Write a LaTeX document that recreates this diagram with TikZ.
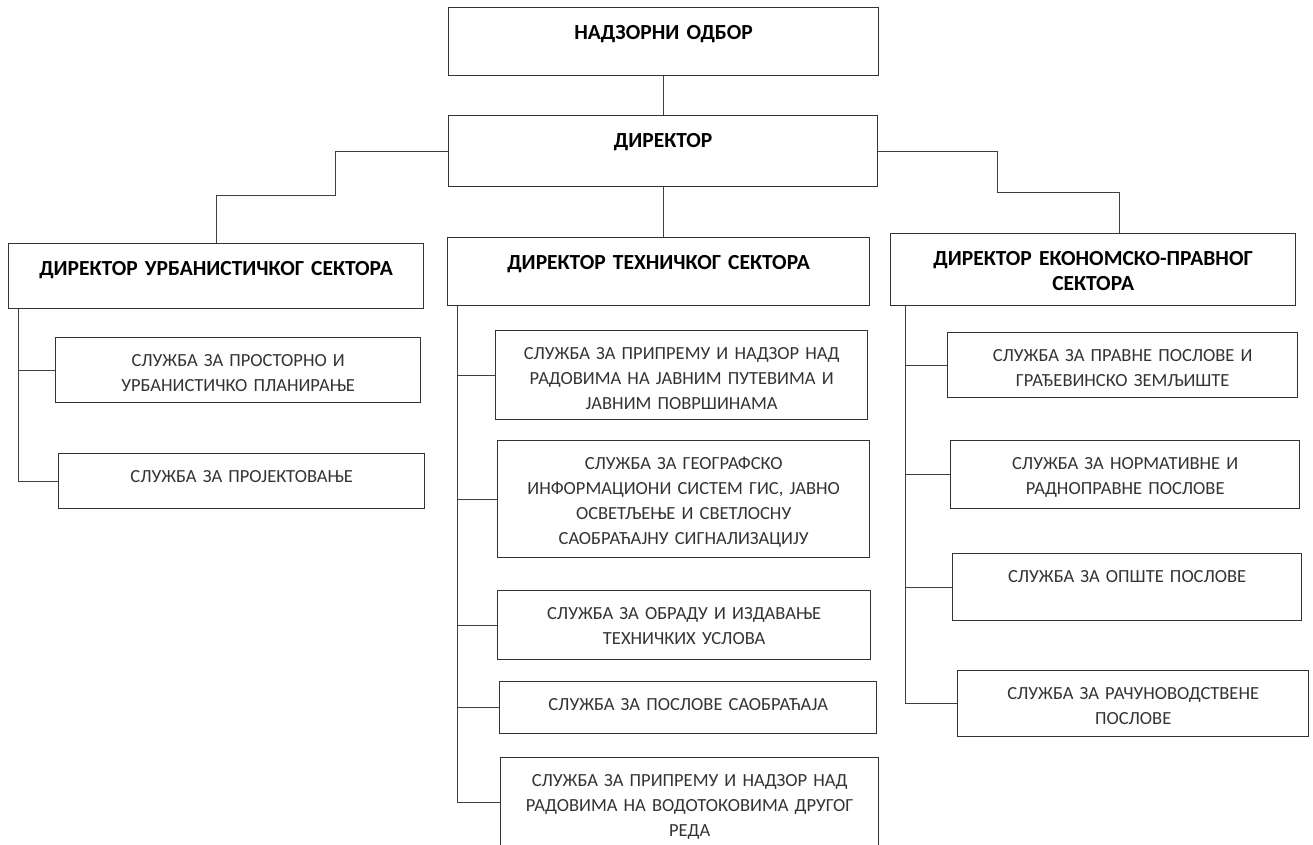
\documentclass[tikz,border=0pt]{standalone}
\usepackage{fontspec}
\setmainfont{Carlito}[WordSpace=0.8]
\usepackage{tikz}

\begin{document}
\begin{tikzpicture}[
		x=1pt, y=-1pt,
		box/.style={draw=black!80, line width=1.3pt, anchor=north west, inner sep=0pt, align=center},
		head/.style 2 args={box, text width=#1pt, text height=32pt, text depth=#2pt-32pt,
			font=\fontsize{21.5}{25}\selectfont\bfseries},
		unit/.style 2 args={box, text width=#1pt, text height=29pt, text depth=#2pt-29pt,
			text=black!80, font=\fontsize{18.5}{25}\selectfont},
		link/.style={draw=black!75, line width=1pt}
		]
		\useasboundingbox (0,0) rectangle (1313,845);
		% top of the chart
		\node[head={430}{68}] (board) at (448,7) {НАДЗОРНИ ОДБОР};
		\node[head={429}{71}] (director) at (448,115) {ДИРЕКТОР};
		% sectors
		\node[head={415}{65}] (urb) at (8,243) {ДИРЕКТОР УРБАНИСТИЧКОГ СЕКТОРА};
		\node[head={422}{68}] (tech) at (447,237) {ДИРЕКТОР ТЕХНИЧКОГ СЕКТОРА};
		\node[head={405}{72}] (econ) at (890,233) {ДИРЕКТОР ЕКОНОМСКО-ПРАВНОГ\\СЕКТОРА};
		% urban sector services
		\node[unit={365}{65}] (urb1) at (55,337) {СЛУЖБА ЗА ПРОСТОРНО И\\УРБАНИСТИЧКО ПЛАНИРАЊЕ};
		\node[unit={366}{55}] (urb2) at (58,453) {СЛУЖБА ЗА ПРОЈЕКТОВАЊЕ};
		% technical sector services
		\node[unit={372}{89}] (tech1) at (495,330) {СЛУЖБА ЗА ПРИПРЕМУ И НАДЗОР НАД\\РАДОВИМА НА ЈАВНИМ ПУТЕВИМА И\\ЈАВНИМ ПОВРШИНАМА};
		\node[unit={372}{117}] (tech2) at (497,440) {СЛУЖБА ЗА ГЕОГРАФСКО\\ИНФОРМАЦИОНИ СИСТЕМ ГИС, ЈАВНО\\ОСВЕТЉЕЊЕ И СВЕТЛОСНУ\\САОБРАЋАЈНУ СИГНАЛИЗАЦИЈУ};
		\node[unit={373}{69}] (tech3) at (497,590) {СЛУЖБА ЗА ОБРАДУ И ИЗДАВАЊЕ\\ТЕХНИЧКИХ УСЛОВА};
		\node[unit={377}{52}] (tech4) at (499,681) {СЛУЖБА ЗА ПОСЛОВЕ САОБРАЋАЈА};
		\node[unit={378}{90}] (tech5) at (500,757) {СЛУЖБА ЗА ПРИПРЕМУ И НАДЗОР НАД\\РАДОВИМА НА ВОДОТОКОВИМА ДРУГОГ\\РЕДА};
		% economic-legal sector services
		\node[unit={350}{65}] (econ1) at (947,332) {СЛУЖБА ЗА ПРАВНЕ ПОСЛОВЕ И\\ГРАЂЕВИНСКО ЗЕМЉИШТЕ};
		\node[unit={349}{68}] (econ2) at (950,440) {СЛУЖБА ЗА НОРМАТИВНЕ И\\РАДНОПРАВНЕ ПОСЛОВЕ};
		\node[unit={349}{67}] (econ3) at (952,553) {СЛУЖБА ЗА ОПШТЕ ПОСЛОВЕ};
		\node[unit={351}{66}] (econ4) at (957,670) {СЛУЖБА ЗА РАЧУНОВОДСТВЕНЕ\\ПОСЛОВЕ};
		% bends of the upper connectors
		\coordinate (bendl) at (335,195);
		\coordinate (bendr) at (997,192);
		
		\draw[link] (board.south) -- (board.south |- director.north);
		\draw[link] (director.south) -- (director.south |- tech.north);
		\draw[link] (director.west) -| (bendl) -| (urb.north);
		\draw[link] (director.east) -| (bendr) -| ([xshift=26pt]econ.north);
		
		\draw[link] ([xshift=10pt]urb.south west) |- (urb1.west);
		\draw[link] ([xshift=10pt]urb.south west) |- (urb2.west);
		
		\draw[link] ([xshift=10pt]tech.south west) |- (tech1.west);
		\draw[link] ([xshift=10pt]tech.south west) |- (tech2.west);
		\draw[link] ([xshift=10pt]tech.south west) |- (tech3.west);
		\draw[link] ([xshift=10pt]tech.south west) |- (tech4.west);
		\draw[link] ([xshift=10pt]tech.south west) |- (tech5.west);
		
		\draw[link] ([xshift=15pt]econ.south west) |- (econ1.west);
		\draw[link] ([xshift=15pt]econ.south west) |- (econ2.west);
		\draw[link] ([xshift=15pt]econ.south west) |- (econ3.west);
		\draw[link] ([xshift=15pt]econ.south west) |- (econ4.west);
		\end{tikzpicture}
\end{document}
